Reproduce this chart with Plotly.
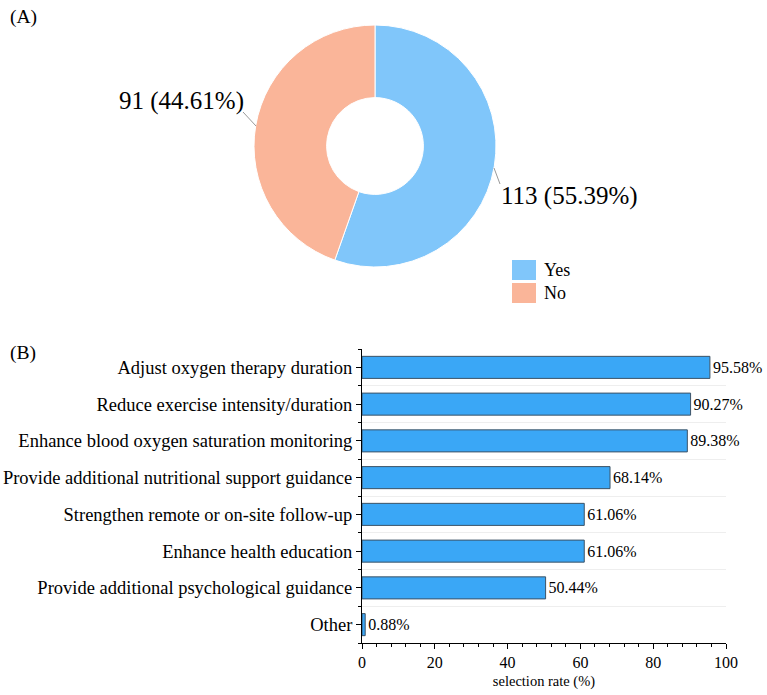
import plotly.graph_objects as go

# ---- data ----
pie_labels = ["Yes", "No"]
pie_values = [113, 91]
pie_colors = ["#80C6FA", "#FAB599"]

categories = [
    "Adjust oxygen therapy duration",
    "Reduce exercise intensity/duration",
    "Enhance blood oxygen saturation monitoring",
    "Provide additional nutritional support guidance",
    "Strengthen remote or on-site follow-up",
    "Enhance health education",
    "Provide additional psychological guidance",
    "Other",
]
rates = [95.58, 90.27, 89.38, 68.14, 61.06, 61.06, 50.44, 0.88]
x_ticks = [0, 20, 40, 60, 80, 100]

FONT = "Liberation Serif, Times New Roman, serif"
W, H = 767, 695


def px(x):
    return x / W


def py(y):
    return 1 - y / H


positions = list(range(len(categories)))
boundaries = [p - 0.5 for p in positions] + [positions[-1] + 0.5]
total = sum(pie_values)
pie_text = [f"{v} ({v / total * 100:.2f}%)" for v in pie_values]

fig = go.Figure()

fig.add_trace(go.Pie(
    labels=pie_labels,
    values=pie_values,
    hole=0.4,
    sort=False,
    direction="clockwise",
    rotation=0,
    marker=dict(colors=pie_colors, line=dict(color="white", width=1)),
    textinfo="none",
    domain=dict(x=[px(375 - 121), px(375 + 121)], y=[py(267), py(25)]),
    showlegend=False,
))

fig.add_trace(go.Bar(
    x=rates,
    y=positions,
    orientation="h",
    width=0.6,
    marker=dict(color="#3AA7F6", line=dict(color="#3D5366", width=1)),
    text=[f"{v:.2f}%" for v in rates],
    textposition="outside",
    textfont=dict(size=16, family=FONT, color="black"),
    constraintext="none",
    cliponaxis=False,
    showlegend=False,
    xaxis="x", yaxis="y",
))

annotations = [
    dict(text="(A)", x=px(8), y=py(17), xref="paper", yref="paper",
         xanchor="left", yanchor="middle", showarrow=False,
         font=dict(size=19.5, family=FONT)),
    dict(text="(B)", x=px(8), y=py(353), xref="paper", yref="paper",
         xanchor="left", yanchor="middle", showarrow=False,
         font=dict(size=19.5, family=FONT)),
    # pie labels (Yes on the right, No on the left)
    dict(text=pie_text[0], x=px(499), y=py(196), xref="paper", yref="paper",
         xanchor="left", yanchor="middle", showarrow=False,
         font=dict(size=25, family=FONT)),
    dict(text=pie_text[1], x=px(246), y=py(101), xref="paper", yref="paper",
         xanchor="right", yanchor="middle", showarrow=False,
         font=dict(size=25, family=FONT)),
]

# custom legend
for i, (lab, col) in enumerate(zip(pie_labels, pie_colors)):
    yc = 270 + i * 23
    annotations.append(dict(text=lab, x=px(542), y=py(yc), xref="paper", yref="paper",
                            xanchor="left", yanchor="middle", showarrow=False,
                            font=dict(size=18, family=FONT)))

shapes = []
for i, col in enumerate(pie_colors):
    yc = 270 + i * 23
    shapes.append(dict(type="rect", xref="paper", yref="paper",
                       x0=px(512), x1=px(536), y0=py(yc + 10), y1=py(yc - 10),
                       fillcolor=col, line=dict(width=0)))
# leader lines
shapes.append(dict(type="line", xref="paper", yref="paper",
                   x0=px(243), y0=py(112), x1=px(256), y1=py(126),
                   line=dict(color="#999999", width=1)))
shapes.append(dict(type="line", xref="paper", yref="paper",
                   x0=px(494), y0=py(168), x1=px(500), y1=py(184),
                   line=dict(color="#999999", width=1)))

fig.update_layout(
    width=W, height=H,
    autosize=False,
    margin=dict(l=0, r=0, t=0, b=0, autoexpand=False),
    paper_bgcolor="white",
    plot_bgcolor="white",
    font=dict(family=FONT, color="black", size=16),
    showlegend=False,
    xaxis=dict(
        domain=[px(362), px(726)],
        range=[0, 100],
        tickvals=x_ticks,
        ticks="outside", ticklen=5, tickcolor="black",
        showline=True, linecolor="black", linewidth=1,
        showgrid=False, zeroline=False,
        tickfont=dict(size=16, family=FONT),
        minor=dict(dtick=4, ticks="outside", ticklen=3, tickcolor="black", showgrid=False),
        title=dict(text="selection rate (%)", font=dict(size=14.5, family=FONT), standoff=5),
        automargin=False,
        anchor="y",
    ),
    yaxis=dict(
        domain=[py(643), py(349)],
        range=[positions[-1] + 0.5, positions[0] - 0.5],
        tickmode="array",
        tickvals=positions,
        ticktext=categories,
        ticks="outside", ticklen=5, tickcolor="black",
        showline=True, linecolor="black", linewidth=1,
        showgrid=False, zeroline=False,
        tickfont=dict(size=18.5, family=FONT),
        minor=dict(tickmode="array", tickvals=boundaries, ticks="outside", ticklen=3,
                   tickcolor="black", showgrid=True, gridcolor="#EEEEEE", gridwidth=1),
        automargin=False,
        anchor="x",
    ),
    annotations=annotations,
    shapes=shapes,
)

fig.write_html("out.html", config={"responsive": False})
